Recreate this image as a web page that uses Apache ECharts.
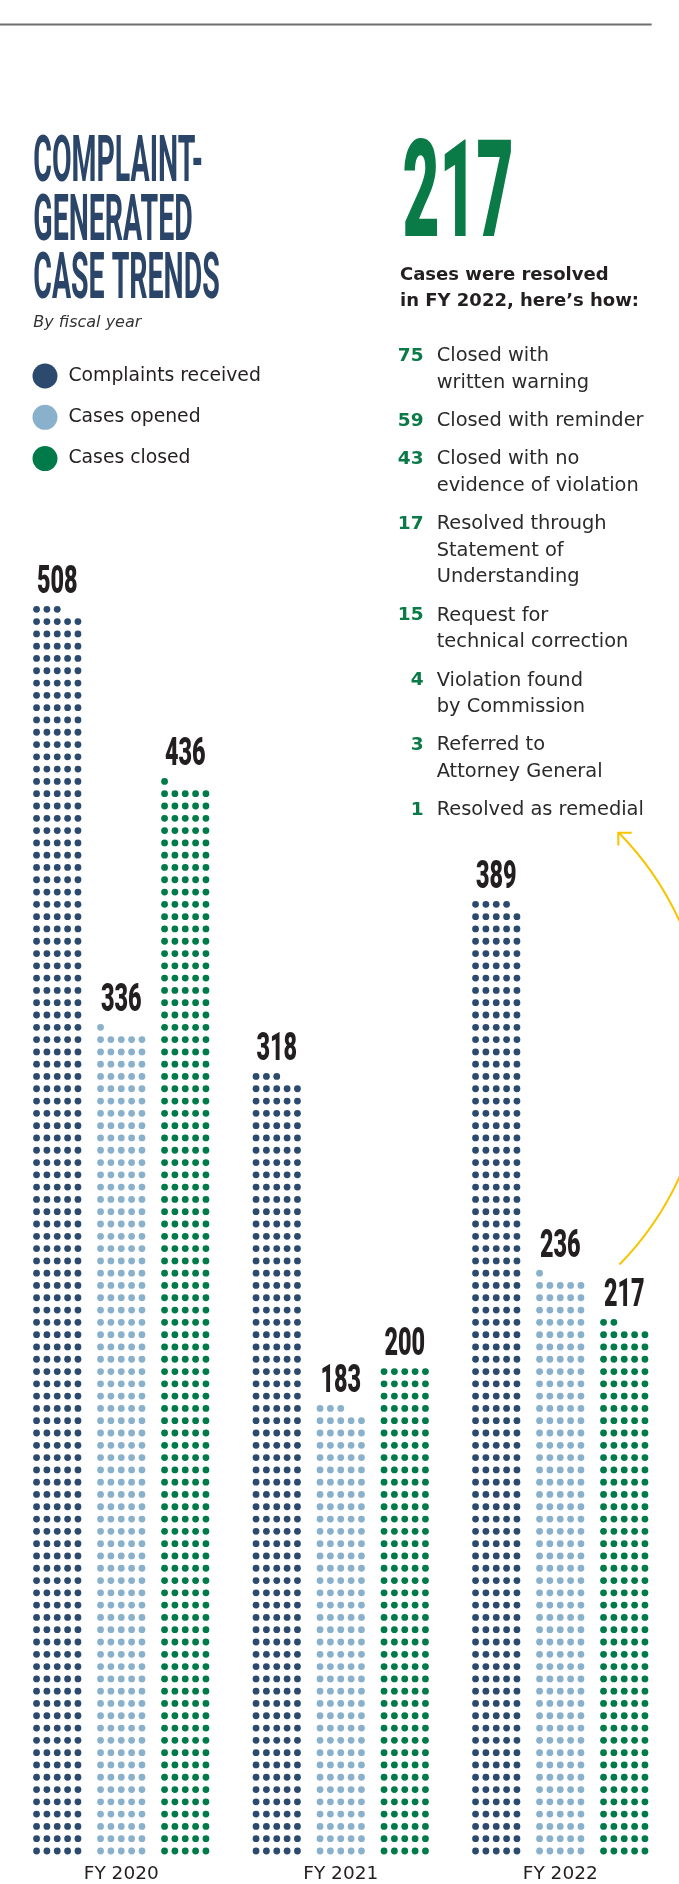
<!DOCTYPE html>
<html>
<head>
<meta charset="utf-8">
<script src="https://cdn.jsdelivr.net/npm/echarts@6/dist/echarts.min.js"></script>
<style>
  html, body { margin: 0; padding: 0; background: #ffffff; }
  #chart { width: 679px; height: 1884px; }
</style>
</head>
<body>
<div id="chart"></div>
<script>
// ---- Data ----
const categories = ['FY 2020', 'FY 2021', 'FY 2022'];
const seriesNames = ['Complaints received', 'Cases opened', 'Cases closed'];
const complaintsReceived = [508, 318, 389];
const casesOpened = [336, 183, 236];
const casesClosed = [436, 200, 217];
const breakdownCounts = [75, 59, 43, 17, 15, 4, 3, 1];
const breakdownLabels = [
  'Closed with\nwritten warning',
  'Closed with reminder',
  'Closed with no\nevidence of violation',
  'Resolved through\nStatement of\nUnderstanding',
  'Request for\ntechnical correction',
  'Violation found\nby Commission',
  'Referred to\nAttorney General',
  'Resolved as remedial'
];
const titleLines = ['COMPLAINT-', 'GENERATED', 'CASE TRENDS'];
const subtitle = 'By fiscal year';
const headline = ['Cases were resolved', 'in FY 2022, here\u2019s how:'];

// ---- Styles ----
const COLORS = ['#2c4a6e', '#8ab1cb', '#007a48'];
const NAVY = '#2b4569';
const GREEN = '#0a7a47';
const INK = '#231f20';
const BODY_FONT = '"DejaVu Sans", "Noto Sans", sans-serif';
const COND_FONT = 'Roboto, "Liberation Sans", sans-serif';
const PER_ROW = 5;
const BAR_OFFSET = 64 / 219.5;   // fraction of category band
const DOT_STEP = 10.35 / 219.5;  // fraction of category band
const DOT_R = 3.4;

const chart = echarts.init(document.getElementById('chart'), null, { renderer: 'canvas' });

function renderDots(params, api) {
  const cat = api.value(0);
  const v = api.value(1);
  const s = params.seriesIndex;
  const size = api.size([1, 1], [cat, 1]);
  const band = size[0];
  const base = api.coord([cat, 0]);
  const cx = base[0] + (s - 1) * BAR_OFFSET * band;
  const step = DOT_STEP * band;
  const color = api.visual('color');
  const children = [];
  for (let k = 0; k < v; k++) {
    const row = Math.floor(k / PER_ROW);
    const col = k % PER_ROW;
    const p = api.coord([cat, row]);
    children.push({
      type: 'circle',
      shape: { cx: cx + (col - (PER_ROW - 1) / 2) * step, cy: p[1], r: DOT_R },
      style: { fill: color }
    });
  }
  const topRow = Math.ceil(v / PER_ROW) - 1;
  const topY = api.coord([cat, topRow])[1];
  children.push({
    type: 'text',
    x: cx,
    y: topY - 26.2,
    scaleX: 0.6,
    style: {
      text: String(v),
      fill: INK,
      fontFamily: COND_FONT,
      fontWeight: 900,
      fontSize: 39,
      align: 'center',
      verticalAlign: 'middle'
    }
  });
  return { type: 'group', children: children };
}

const valueSets = [complaintsReceived, casesOpened, casesClosed];
const series = seriesNames.map((name, s) => ({
  name: name,
  type: 'custom',
  renderItem: renderDots,
  clip: false,
  itemStyle: { color: COLORS[s] },
  encode: { x: 0, y: 1 },
  data: categories.map((c, i) => [i, valueSets[s][i]])
}));

// ---- Graphics (title, annotations) ----
const graphics = [];
graphics.push({
  type: 'line',
  shape: { x1: 0, y1: 24.5, x2: 651.7, y2: 24.5 },
  style: { stroke: '#6e6e6e', lineWidth: 2 }
});
titleLines.forEach((t, i) => {
  graphics.push({
    type: 'text',
    x: 33.3,
    y: 165.2 + i * 58.3,
    scaleX: 0.445,
    style: {
      text: t,
      fill: NAVY,
      fontFamily: COND_FONT,
      fontWeight: 'bold',
      fontSize: 64,
      align: 'left',
      verticalAlign: 'middle'
    }
  });
});
graphics.push({
  type: 'text',
  x: 33.3,
  y: 323,
  style: {
    text: subtitle,
    fill: '#333333',
    fontFamily: BODY_FONT,
    fontStyle: 'italic',
    fontSize: 16,
    align: 'left',
    verticalAlign: 'middle'
  }
});
// big total
graphics.push({
  type: 'text',
  x: 458,
  y: 202.4,
  scaleX: 0.47,
  style: {
    text: String(casesClosed[casesClosed.length - 1]),
    fill: GREEN,
    fontFamily: COND_FONT,
    fontWeight: 900,
    fontSize: 136,
    align: 'center',
    verticalAlign: 'middle'
  }
});
headline.forEach((t, i) => {
  graphics.push({
    type: 'text',
    x: 400,
    y: 275.5 + i * 26.3,
    style: {
      text: t,
      fill: INK,
      fontFamily: BODY_FONT,
      fontWeight: 'bold',
      fontSize: 18,
      align: 'left',
      verticalAlign: 'middle'
    }
  });
});
// breakdown list
const LH = 26.7;
let baseline = 361.5;
breakdownCounts.forEach((n, i) => {
  const lines = breakdownLabels[i].split('\n');
  lines.forEach((ln, j) => {
    graphics.push({
      type: 'text',
      x: 436.7,
      y: baseline - 5.5 + j * LH,
      style: {
        text: ln,
        fill: '#2a2a2a',
        fontFamily: BODY_FONT,
        fontSize: 19.4,
        align: 'left',
        verticalAlign: 'middle'
      }
    });
  });
  graphics.push({
    type: 'text',
    x: 423.5,
    y: baseline - 5.5,
    style: {
      text: String(n),
      fill: GREEN,
      fontFamily: BODY_FONT,
      fontWeight: 'bold',
      fontSize: 18.5,
      align: 'right',
      verticalAlign: 'middle'
    }
  });
  baseline += lines.length * LH + 11.5;
});
// yellow arrow
graphics.push({
  type: 'arc',
  shape: { cx: 399, cy: 1049, r: 308.3, startAngle: -0.776, endAngle: 0.774, clockwise: true },
  style: { stroke: '#f6c400', lineWidth: 2, fill: null }
});
graphics.push({
  type: 'polyline',
  shape: { points: [[631.7, 832.7], [618.3, 832.7], [618.3, 845.5]] },
  style: { stroke: '#f6c400', lineWidth: 2, fill: null }
});

const option = {
  backgroundColor: '#ffffff',
  animation: false,
  color: COLORS,
  legend: {
    orient: 'vertical',
    left: 32.5,
    top: 363.5,
    padding: 0,
    itemWidth: 25,
    itemHeight: 25,
    itemGap: 16.3,
    icon: 'circle',
    selectedMode: false,
    data: seriesNames,
    textStyle: {
      fontFamily: BODY_FONT,
      fontSize: 18.8,
      color: INK,
      padding: [0, 0, 0, 6]
    }
  },
  grid: { left: 11.5, right: 9, top: 375.7, bottom: 32.3 },
  xAxis: {
    type: 'category',
    data: categories,
    axisLine: { show: false },
    axisTick: { show: false },
    splitLine: { show: false },
    axisLabel: {
      margin: 14,
      fontFamily: BODY_FONT,
      fontSize: 18.5,
      color: INK
    }
  },
  yAxis: {
    type: 'value',
    min: 0,
    max: 120,
    show: false,
    splitLine: { show: false }
  },
  graphic: graphics,
  series: series
};
chart.setOption(option);
</script>
</body>
</html>
